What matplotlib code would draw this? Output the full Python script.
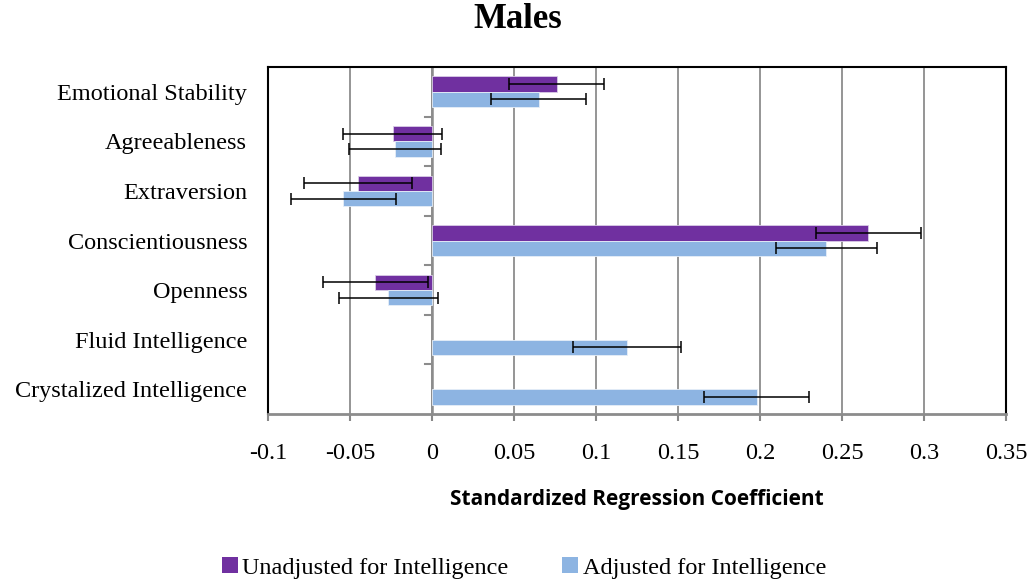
import numpy as np
import matplotlib
matplotlib.use("Agg")
import matplotlib.pyplot as plt
from matplotlib.patches import Patch

categories = ["Emotional Stability", "Agreeableness", "Extraversion",
              "Conscientiousness", "Openness", "Fluid Intelligence",
              "Crystalized Intelligence"]
unadjusted = [0.076, -0.024, -0.045, 0.266, -0.0345, np.nan, np.nan]
unadjusted_err = [0.029, 0.030, 0.033, 0.032, 0.032, np.nan, np.nan]
adjusted = [0.065, -0.0226, -0.054, 0.2405, -0.0266, 0.119, 0.198]
adjusted_err = [0.029, 0.028, 0.032, 0.031, 0.030, 0.033, 0.032]
xticks = [-0.1, -0.05, 0, 0.05, 0.1, 0.15, 0.2, 0.25, 0.3, 0.35]
xticklabels = ["-0.1", "-0.05", "0", "0.05", "0.1", "0.15", "0.2", "0.25", "0.3", "0.35"]

purple = "#7030A0"
blue = "#8DB4E2"
serif = ["Liberation Serif", "DejaVu Serif"]

fig = plt.figure(figsize=(10.30, 5.84), dpi=100)
ax = fig.add_axes([268/1030, 1-414/584, (1006-268)/1030, (414-67)/584])

y = np.arange(len(categories))
h = 0.31
off = h/2
ax.barh(y - off, unadjusted, height=h, color=purple, edgecolor="#d9cce6", linewidth=0.6, zorder=3)
ax.barh(y + off, adjusted, height=h, color=blue, edgecolor="#e6eef8", linewidth=0.6, zorder=3)
ax.errorbar(unadjusted, y - off, xerr=unadjusted_err, fmt="none", ecolor="black",
            elinewidth=1.1, capsize=4, capthick=1.1, zorder=4)
ax.errorbar(adjusted, y + off, xerr=adjusted_err, fmt="none", ecolor="black",
            elinewidth=1.1, capsize=4, capthick=1.1, zorder=4)

ax.set_xlim(-0.1, 0.35)
ax.set_ylim(len(categories) - 0.5, -0.5)
ax.set_xticks(xticks)
ax.set_xticklabels(xticklabels, fontfamily=serif, fontsize=17.5)
ax.set_yticks(y)
ax.set_yticklabels(categories, fontfamily=serif, fontsize=17.5)
ax.tick_params(axis="y", length=0, pad=15)
ax.tick_params(axis="x", length=5, color="#888888", width=1.5, pad=16, direction="out")

ax.grid(axis="x", color="#8c8c8c", linewidth=1.3, zorder=0)
ax.set_axisbelow(True)

for s in ["left", "top", "right"]:
    ax.spines[s].set_color("black")
    ax.spines[s].set_linewidth(1.5)
ax.spines["bottom"].set_color("#8c8c8c")
ax.spines["bottom"].set_linewidth(2)

# vertical category axis at zero with tick marks between categories
ax.axvline(0, color="#8c8c8c", linewidth=1.8, zorder=2)
for b in np.arange(0.5, len(categories) - 0.5, 1.0):
    ax.plot([-0.004, 0], [b, b], color="#8c8c8c", linewidth=1.5, zorder=2, clip_on=False)

fig.text(518/1030, 1-20/584, "Males", ha="center", va="center",
         fontfamily=serif, fontsize=25, fontweight="bold")
fig.text(637/1030, 1-500/584, "Standardized Regression Coefficient", ha="center", va="center",
         fontfamily=["Open Sans", "DejaVu Sans"], fontsize=15, fontweight="bold")

handles = [Patch(facecolor=purple, edgecolor="none"), Patch(facecolor=blue, edgecolor="none")]
fig.legend(handles, ["Unadjusted for Intelligence", "Adjusted for Intelligence"],
           loc="center", bbox_to_anchor=(524/1030, 1-568/584), ncol=2, frameon=False,
           prop={"family": serif, "size": 17.5}, handlelength=0.65, handleheight=0.65,
           handletextpad=0.2, columnspacing=2.2)

fig.savefig("out.png", dpi=100)
